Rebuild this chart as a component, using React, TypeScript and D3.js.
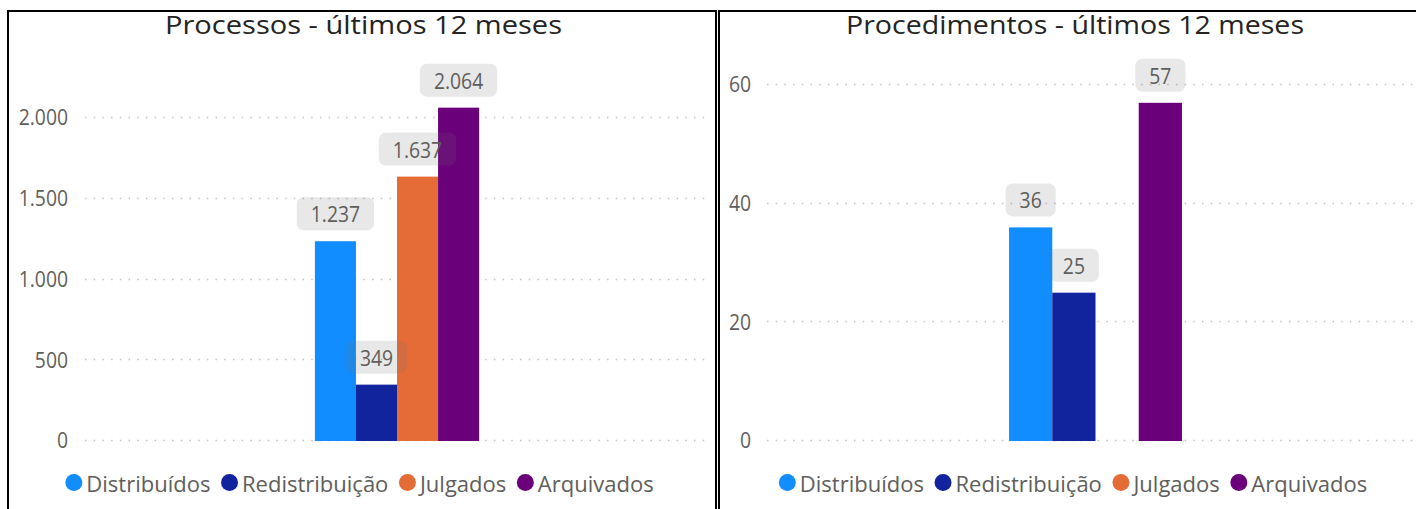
import React from "react";
import * as d3 from "d3";

// ---------- data ----------
const seriesNames = ["Distribuídos", "Redistribuição", "Julgados", "Arquivados"];
const seriesColors = ["#118DFF", "#12239E", "#E66C37", "#6B007B"];
const categories = ["Últimos 12 meses"];
const processosValues: (number | null)[] = [1237, 349, 1637, 2064];
const procedimentosValues: (number | null)[] = [36, 25, null, 57];
const processosTicks = [0, 500, 1000, 1500, 2000];
const procedimentosTicks = [0, 20, 40, 60];
const processosTitle = "Processos - últimos 12 meses";
const procedimentosTitle = "Procedimentos - últimos 12 meses";

// ---------- helpers ----------
const ptBR = d3.formatLocale({
  decimal: ",",
  thousands: ".",
  grouping: [3],
  currency: ["R$", ""],
});
const fmt = ptBR.format(",d");

const FONT = "'Segoe UI', 'Open Sans', sans-serif";
let ctx: CanvasRenderingContext2D | null = null;
function measure(s: string, size: number): number {
  if (!ctx && typeof document !== "undefined") {
    ctx = document.createElement("canvas").getContext("2d");
  }
  if (!ctx) return s.length * size * 0.55;
  ctx.font = `${size}px 'Open Sans'`;
  return ctx.measureText(s).width;
}

interface PanelCfg {
  title: string;
  values: (number | null)[];
  ticks: number[];
  tickMax: number;
  topY: number;
  plotX0: number;
  plotX1: number;
  gridX1: number;
  labelRight: number;
  titleX: number;
  titleW: number;
  legendCx: number;
}

const baseY = 441;
const numSize = 21.5;
const numScaleX = 0.9;

function NumText({ x, y, anchor, children }: { x: number; y: number; anchor: string; children: string }) {
  return (
    <text
      transform={`translate(${x},${y}) scale(${numScaleX},1)`}
      textAnchor={anchor}
      dominantBaseline="central"
      fontFamily={FONT}
      fontSize={numSize}
      fill="#605E5C"
    >
      {children}
    </text>
  );
}

function Panel({ cfg }: { cfg: PanelCfg }) {
  const y = d3.scaleLinear().domain([0, cfg.tickMax]).range([baseY, cfg.topY]);
  const xOuter = d3
    .scaleBand<string>()
    .domain(categories)
    .range([cfg.plotX0, cfg.plotX1])
    .paddingInner(0)
    .paddingOuter(1.4);
  const xInner = d3
    .scaleBand<string>()
    .domain(seriesNames)
    .range([0, xOuter.bandwidth()])
    .padding(0);

  const legendSize = 22;
  const circleR = 8.5;
  const legendItems = seriesNames.map((n) => measure(n, legendSize));
  const itemW = legendItems.map((w) => circleR * 2 + 4 + w);
  const gap = 10.6;
  const total = d3.sum(itemW) + gap * (itemW.length - 1);
  let cursor = cfg.legendCx - total / 2;
  const legendPos = itemW.map((w) => {
    const p = cursor;
    cursor += w + gap;
    return p;
  });

  return (
    <g>
      <text
        x={cfg.titleX}
        y={34}
        textAnchor="middle"
        fontFamily={FONT}
        fontSize={25.5}
        fontWeight={500}
        fill="#252423"
        textLength={cfg.titleW}
        lengthAdjust="spacingAndGlyphs"
      >
        {cfg.title}
      </text>
      {cfg.ticks.map((t) => (
        <g key={t}>
          <line
            x1={cfg.plotX0}
            x2={cfg.gridX1}
            y1={Math.round(y(t)) - 0.5}
            y2={Math.round(y(t)) - 0.5}
            stroke="#c4c4c4"
            strokeWidth={1.3}
            strokeDasharray="1.5 7.2"
          />
          <NumText x={cfg.labelRight} y={y(t) - 1} anchor="end">
            {fmt(t)}
          </NumText>
        </g>
      ))}
      {categories.map((c) => (
        <g key={c} transform={`translate(${xOuter(c)},0)`}>
          {cfg.values.map((v, i) =>
            v == null ? null : (
              <rect
                key={i}
                x={xInner(seriesNames[i])}
                y={y(v)}
                width={xInner.bandwidth()}
                height={baseY - y(v)}
                fill={seriesColors[i]}
              />
            )
          )}
          {cfg.values.map((v, i) => {
            if (v == null) return null;
            const s = fmt(v);
            const w = measure(s, numSize) * numScaleX + 28;
            const h = 33;
            const cx = (xInner(seriesNames[i]) as number) + xInner.bandwidth() / 2;
            const bottom = y(v) - 11;
            return (
              <g key={"l" + i}>
                <rect
                  x={cx - w / 2}
                  y={bottom - h}
                  width={w}
                  height={h}
                  rx={7}
                  fill="rgba(110,110,110,0.16)"
                />
                <NumText x={cx} y={bottom - h / 2} anchor="middle">
                  {s}
                </NumText>
              </g>
            );
          })}
        </g>
      ))}
      {seriesNames.map((n, i) => (
        <g key={n} transform={`translate(${legendPos[i]},0)`}>
          <circle cx={circleR} cy={482.5} r={circleR} fill={seriesColors[i]} />
          <text
            x={circleR * 2 + 4}
            y={491.5}
            fontFamily={FONT}
            fontSize={legendSize}
            fill="#605E5C"
          >
            {n}
          </text>
        </g>
      ))}
    </g>
  );
}

const leftCfg: PanelCfg = {
  title: processosTitle,
  values: processosValues,
  ticks: processosTicks,
  tickMax: 2000,
  topY: 118,
  plotX0: 85,
  plotX1: 709,
  gridX1: 710,
  labelRight: 68,
  titleX: 363.5,
  titleW: 397,
  legendCx: 359.5,
};

const rightCfg: PanelCfg = {
  title: procedimentosTitle,
  values: procedimentosValues,
  ticks: procedimentosTicks,
  tickMax: 60,
  topY: 85,
  plotX0: 767,
  plotX1: 1424,
  gridX1: 1416,
  labelRight: 751,
  titleX: 1075,
  titleW: 458,
  legendCx: 1073,
};

export default function App() {
  return (
    <svg
      width={1416}
      height={509}
      style={{ position: "absolute", left: 0, top: 0, background: "#fff" }}
    >
      <rect x={0} y={0} width={1416} height={509} fill="#fff" />
      <Panel cfg={leftCfg} />
      <Panel cfg={rightCfg} />
      {/* panel borders */}
      <path d="M8,509 V11 H716 V509" fill="none" stroke="#000" strokeWidth={2} />
      <path d="M719,509 V11 H1416" fill="none" stroke="#000" strokeWidth={2} />
    </svg>
  );
}
